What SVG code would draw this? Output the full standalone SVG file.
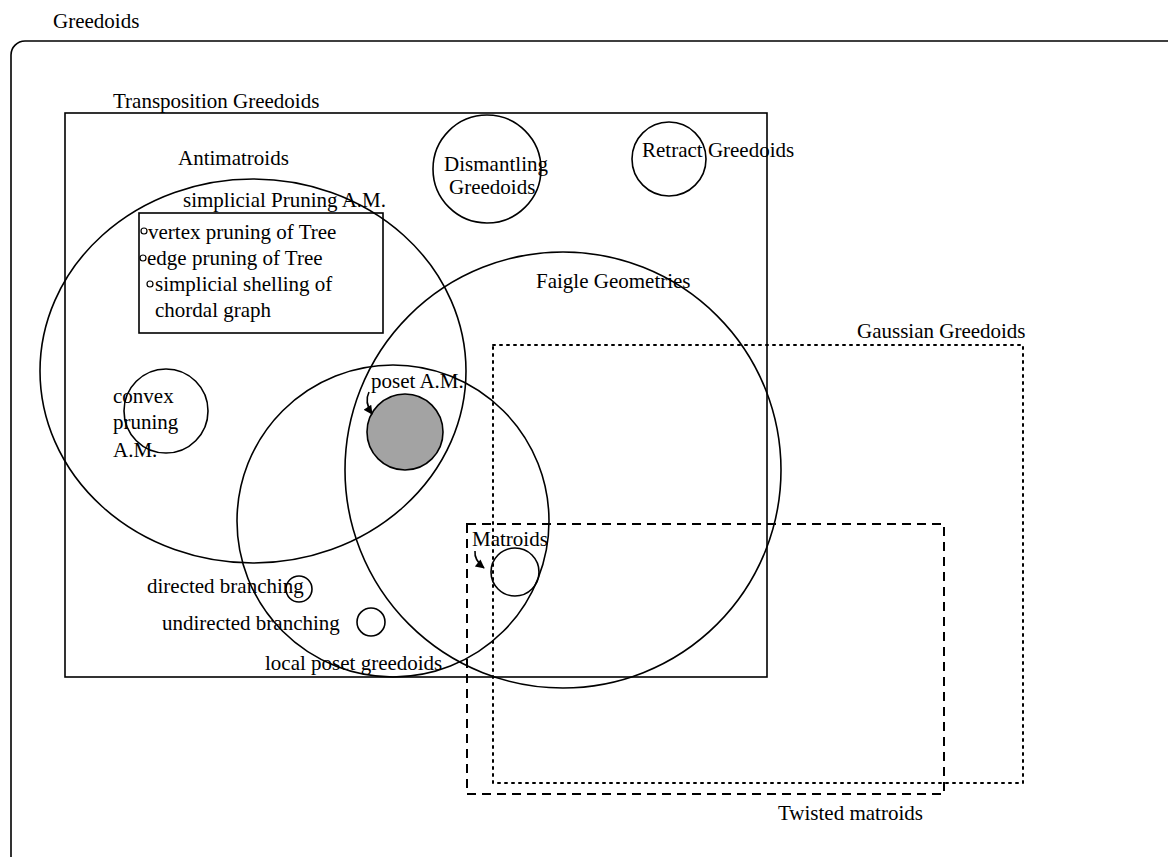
<svg xmlns="http://www.w3.org/2000/svg" width="1168" height="857" viewBox="0 0 1168 857">
  <style>
    text { font-family: "Liberation Serif", "DejaVu Serif", serif; font-size: 21px; fill: #000; }
    .ln { fill: none; stroke: #000; stroke-width: 1.6; }
    .dot { fill: none; stroke: #000; stroke-width: 2; stroke-dasharray: 2 5; stroke-linecap: round; }
    .dash { fill: none; stroke: #000; stroke-width: 2; stroke-dasharray: 9 6; }
    .bullet { fill: #fff; stroke: #000; stroke-width: 1.2; }
    .arr { fill: none; stroke: #000; stroke-width: 1.6; marker-end: url(#head); }
  </style>
  <defs>
    <marker id="head" viewBox="0 0 10 10" refX="9" refY="5" markerWidth="11" markerHeight="9" orient="auto" markerUnits="userSpaceOnUse">
      <path d="M0,0 L10,5 L0,10 z" fill="#000"/>
    </marker>
  </defs>
  <rect width="1168" height="857" fill="#fff"/>

  <!-- outermost frame: all greedoids -->
  <g id="greedoids">
    <rect class="ln" x="11" y="41" width="1180" height="830" rx="14"/>
    <text x="53" y="28">Greedoids</text>
  </g>

  <g id="transposition">
    <rect class="ln" x="65" y="113" width="702" height="564"/>
    <text x="113" y="108">Transposition Greedoids</text>
  </g>

  <g id="antimatroids">
    <ellipse class="ln" cx="253" cy="371" rx="213" ry="192"/>
    <text x="178" y="165">Antimatroids</text>
  </g>

  <g id="simplicial-pruning">
    <rect class="ln" x="139" y="213" width="244" height="120"/>
    <text x="183" y="207">simplicial Pruning A.M.</text>
    <circle class="bullet" cx="144" cy="231" r="3"/>
    <text x="148" y="239">vertex pruning of Tree</text>
    <circle class="bullet" cx="143" cy="258" r="3"/>
    <text x="147" y="265">edge pruning of Tree</text>
    <circle class="bullet" cx="150" cy="284" r="3"/>
    <text x="155" y="291">simplicial shelling of</text>
    <text x="155" y="317">chordal graph</text>
  </g>

  <g id="convex-pruning">
    <circle class="ln" cx="166" cy="411" r="42"/>
    <text x="113" y="403">convex</text>
    <text x="113" y="429">pruning</text>
    <text x="113" y="457">A.M.</text>
  </g>

  <g id="dismantling">
    <circle class="ln" cx="487" cy="169" r="54"/>
    <text x="444" y="171" font-size="19.5" textLength="104">Dismantling</text>
    <text x="449" y="194" font-size="19.5">Greedoids</text>
  </g>

  <g id="retract">
    <circle class="ln" cx="669" cy="159" r="37"/>
    <text x="642" y="157">Retract Greedoids</text>
  </g>

  <g id="faigle">
    <circle class="ln" cx="563" cy="470" r="218"/>
    <text x="536" y="288">Faigle Geometries</text>
  </g>

  <g id="local-poset">
    <circle class="ln" cx="393" cy="521" r="156"/>
    <text x="265" y="670">local poset greedoids</text>
  </g>

  <g id="poset-am">
    <circle cx="405" cy="432" r="38" fill="#a3a3a3" stroke="#000" stroke-width="1.6"/>
    <text x="371" y="388">poset A.M.</text>
  </g>

  <g id="gaussian">
    <rect class="dot" x="493" y="345" width="530" height="438"/>
    <text x="857" y="338">Gaussian Greedoids</text>
  </g>

  <g id="twisted">
    <rect class="dash" x="467" y="524" width="477" height="270"/>
    <text x="778" y="820">Twisted matroids</text>
  </g>

  <g id="matroids">
    <circle class="ln" cx="515" cy="572" r="24"/>
    <text x="472" y="546">Matroids</text>
  </g>

  <g id="directed-branching">
    <circle class="ln" cx="299" cy="589" r="13"/>
    <text x="147" y="593">directed branching</text>
  </g>

  <g id="undirected-branching">
    <circle class="ln" cx="371" cy="622" r="14"/>
    <text x="162" y="630">undirected branching</text>
  </g>

  <!-- pointers from labels to their sets -->
  <g id="connectors">
    <path class="arr" d="M369,392 Q364,402 372,414"/>
    <path class="arr" d="M475,551 Q474,560 484,568"/>
  </g>
</svg>
